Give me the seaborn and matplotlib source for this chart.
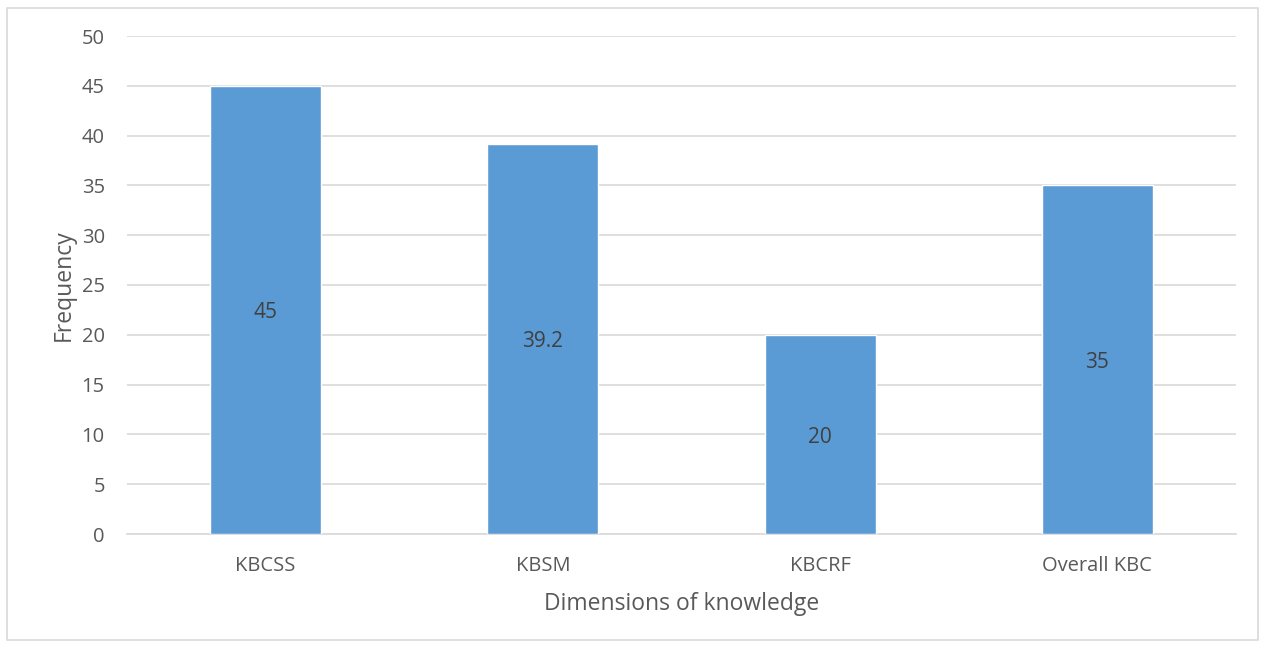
import matplotlib
matplotlib.use("Agg")
import matplotlib.pyplot as plt
import matplotlib.transforms as mtransforms
import seaborn as sns
import pandas as pd
from matplotlib.patches import Rectangle

categories = ["KBCSS", "KBSM", "KBCRF", "Overall KBC"]
values = [45, 39.2, 20, 35]
value_labels = ["45", "39.2", "20", "35"]
y_ticks = [0, 5, 10, 15, 20, 25, 30, 35, 40, 45, 50]

df = pd.DataFrame({"dimension": categories, "frequency": values})

sns.set_theme(style="white")
plt.rcParams["font.family"] = ["Open Sans", "DejaVu Sans"]

fig = plt.figure(figsize=(12.65, 6.48), dpi=100)
ax = fig.add_axes([127 / 1265, 1 - 534 / 648, (1236 - 127) / 1265, (534 - 36) / 648])

sns.barplot(data=df, x="dimension", y="frequency", color="#5b9bd5",
            width=0.4, saturation=1, ax=ax, zorder=3)

ax.set_ylim(0, 50)
ax.set_yticks(y_ticks)
ax.yaxis.grid(True, color="#d9d9d9", linewidth=1.2, zorder=0)
ax.set_axisbelow(True)
for s in ["top", "right", "left"]:
    ax.spines[s].set_visible(False)
ax.spines["bottom"].set_color("#d9d9d9")
ax.spines["bottom"].set_linewidth(1.2)

ax.tick_params(axis="both", length=0, labelsize=14.5, labelcolor="#595959")
ax.tick_params(axis="y", pad=16)
ax.tick_params(axis="x", pad=16)

ax.set_xlabel("Dimensions of knowledge", fontsize=16.5, color="#595959", labelpad=11)
ax.set_ylabel("Frequency", fontsize=16.5, color="#595959", labelpad=4)

# value labels centred inside each bar (nudged a few pixels down)
nudge = mtransforms.offset_copy(ax.transData, fig=fig, x=0, y=-3, units="dots")
for bar, lab in zip(ax.patches, value_labels):
    h = bar.get_height()
    ax.text(bar.get_x() + bar.get_width() / 2, h / 2, lab, transform=nudge,
            ha="center", va="center", fontsize=15, color="#404040", zorder=4)

# chart-area border
fig.patches.append(Rectangle((7 / 1265, 8 / 648), 1251 / 1265, 632 / 648,
                             transform=fig.transFigure, fill=False,
                             edgecolor="#d9d9d9", linewidth=1.2))

fig.savefig("out.png", dpi=100)
